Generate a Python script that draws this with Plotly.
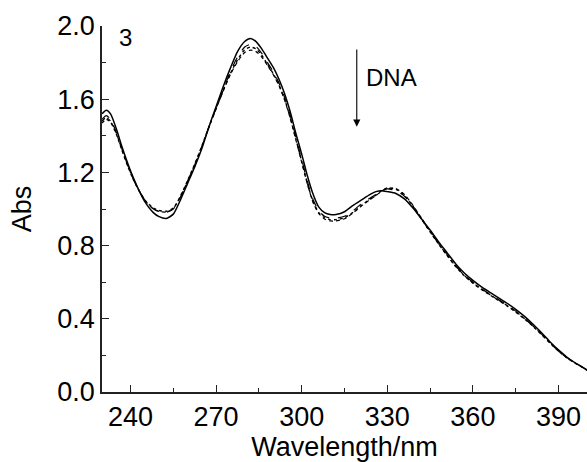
import plotly.graph_objects as go

wavelength = [230, 231.5, 233, 235, 237, 239, 241, 243, 245, 248, 250, 252.5, 255, 257.5,
              260, 262.5, 265, 267.5, 270, 272.5, 275, 277.5, 280, 282, 284, 286, 288, 290,
              292, 294, 296, 298, 300, 302, 304, 306, 308, 310, 312, 315, 318, 321, 324,
              326, 328, 330, 333, 336, 339, 342, 345, 348, 351, 354, 357, 360, 363, 366,
              369, 372, 375, 378, 381, 384, 387, 390, 393, 396, 398, 400]

abs_0 = [1.52, 1.54, 1.52, 1.44, 1.34, 1.25, 1.17, 1.10, 1.04, 0.98, 0.958, 0.948, 0.972, 1.05,
         1.14, 1.23, 1.33, 1.45, 1.56, 1.67, 1.77, 1.86, 1.915, 1.932, 1.915, 1.875, 1.825, 1.775,
         1.71, 1.63, 1.53, 1.41, 1.30, 1.18, 1.08, 1.01, 0.98, 0.97, 0.97, 0.985, 1.02, 1.05, 1.08,
         1.095, 1.10, 1.095, 1.085, 1.055, 1.005, 0.945, 0.885, 0.82, 0.76, 0.70, 0.65, 0.61, 0.575, 0.545,
         0.515, 0.485, 0.452, 0.415, 0.372, 0.325, 0.275, 0.23, 0.19, 0.158, 0.14, 0.12]

abs_1 = [1.49, 1.51, 1.49, 1.42, 1.33, 1.24, 1.165, 1.10, 1.05, 1.00, 0.988, 0.982, 1.0, 1.065,
         1.15, 1.24, 1.34, 1.45, 1.55, 1.65, 1.75, 1.83, 1.885, 1.90, 1.888, 1.85, 1.80, 1.75,
         1.69, 1.61, 1.51, 1.39, 1.27, 1.15, 1.05, 0.99, 0.96, 0.95, 0.95, 0.96, 0.99, 1.03, 1.06,
         1.08, 1.10, 1.11, 1.10, 1.07, 1.01, 0.945, 0.878, 0.812, 0.75, 0.69, 0.64, 0.60, 0.565, 0.535,
         0.505, 0.475, 0.442, 0.405, 0.363, 0.318, 0.27, 0.225, 0.188, 0.157, 0.139, 0.12]

abs_2 = [1.47, 1.49, 1.475, 1.41, 1.32, 1.235, 1.16, 1.10, 1.05, 1.005, 0.992, 0.988, 1.005, 1.07,
         1.155, 1.245, 1.345, 1.45, 1.55, 1.65, 1.74, 1.815, 1.87, 1.885, 1.875, 1.84, 1.79, 1.74,
         1.68, 1.60, 1.50, 1.38, 1.26, 1.14, 1.04, 0.98, 0.952, 0.942, 0.942, 0.952, 0.982, 1.02, 1.055,
         1.075, 1.10, 1.115, 1.108, 1.075, 1.015, 0.945, 0.875, 0.808, 0.745, 0.685, 0.635, 0.595, 0.56, 0.53,
         0.50, 0.47, 0.437, 0.40, 0.36, 0.315, 0.268, 0.223, 0.186, 0.156, 0.138, 0.12]

abs_3 = [1.48, 1.50, 1.48, 1.415, 1.325, 1.24, 1.162, 1.10, 1.048, 1.0, 0.986, 0.984, 1.002, 1.068,
         1.152, 1.242, 1.342, 1.448, 1.548, 1.645, 1.735, 1.805, 1.855, 1.868, 1.86, 1.83, 1.785, 1.735,
         1.675, 1.595, 1.495, 1.375, 1.255, 1.135, 1.035, 0.975, 0.945, 0.935, 0.935, 0.947, 0.978, 1.017, 1.052,
         1.073, 1.098, 1.112, 1.112, 1.08, 1.02, 0.95, 0.878, 0.81, 0.747, 0.687, 0.637, 0.597, 0.562, 0.532,
         0.502, 0.472, 0.44, 0.402, 0.362, 0.317, 0.27, 0.224, 0.187, 0.157, 0.139, 0.12]

series = [
    (abs_0, "solid", 1.5),
    (abs_1, "dash", 1.2),
    (abs_2, "dot", 1.4),
    (abs_3, "4px,3px", 1.2),
]

x_ticks = [240, 270, 300, 330, 360, 390]
y_ticks = [0.0, 0.4, 0.8, 1.2, 1.6, 2.0]

FONT = "Liberation Sans, Arial, sans-serif"

fig = go.Figure()
for vals, dash, w in series:
    fig.add_trace(go.Scatter(x=wavelength, y=vals, mode="lines",
                             line=dict(color="black", width=w, dash=dash, shape="spline", smoothing=0.6),
                             showlegend=False, hoverinfo="skip"))

fig.add_annotation(x=238.2, y=1.935, xref="x", yref="y", text="3", showarrow=False,
                   font=dict(family=FONT, size=24, color="black"))
fig.add_annotation(x=321.8, y=1.72, xref="x", yref="y", text="DNA", showarrow=False,
                   xanchor="left", font=dict(family=FONT, size=24, color="black"))
fig.add_annotation(x=319.3, y=1.45, ax=319.3, ay=1.88, xref="x", yref="y", axref="x", ayref="y",
                   text="", showarrow=True, arrowhead=2, arrowsize=1.3, arrowwidth=1.1, arrowcolor="black")

fig.update_layout(
    width=587, height=462,
    margin=dict(l=102, r=0, t=26, b=70, autoexpand=False),
    plot_bgcolor="white", paper_bgcolor="white",
    font=dict(family=FONT, size=27, color="black"),
    showlegend=False,
)

axis_common = dict(showgrid=False, zeroline=False, showline=True, linecolor="#222", linewidth=1.5,
                   ticks="inside", ticklen=7, tickwidth=1.3, tickcolor="#222", automargin=False,
                   tickfont=dict(family=FONT, size=27, color="black"))
fig.update_xaxes(range=[230, 400], tickvals=x_ticks, ticktext=[str(v) for v in x_ticks],
                 minor=dict(ticks="inside", ticklen=4, tickwidth=1.3, tickcolor="#222", dtick=15, tick0=225),
                 title=dict(text="Wavelength/nm", font=dict(family=FONT, size=27), standoff=0),
                 **axis_common)
fig.update_yaxes(range=[0, 2.0], tickvals=y_ticks, ticktext=[f"{v:.1f}" for v in y_ticks],
                 minor=dict(ticks="inside", ticklen=4, tickwidth=1.3, tickcolor="#222", dtick=0.2, tick0=0),
                 title=dict(text="Abs", font=dict(family=FONT, size=27), standoff=18),
                 **axis_common)

fig.write_html("out.html", config={"displayModeBar": False},
               post_script="document.body.style.margin='0';document.body.style.overflow='hidden';")
